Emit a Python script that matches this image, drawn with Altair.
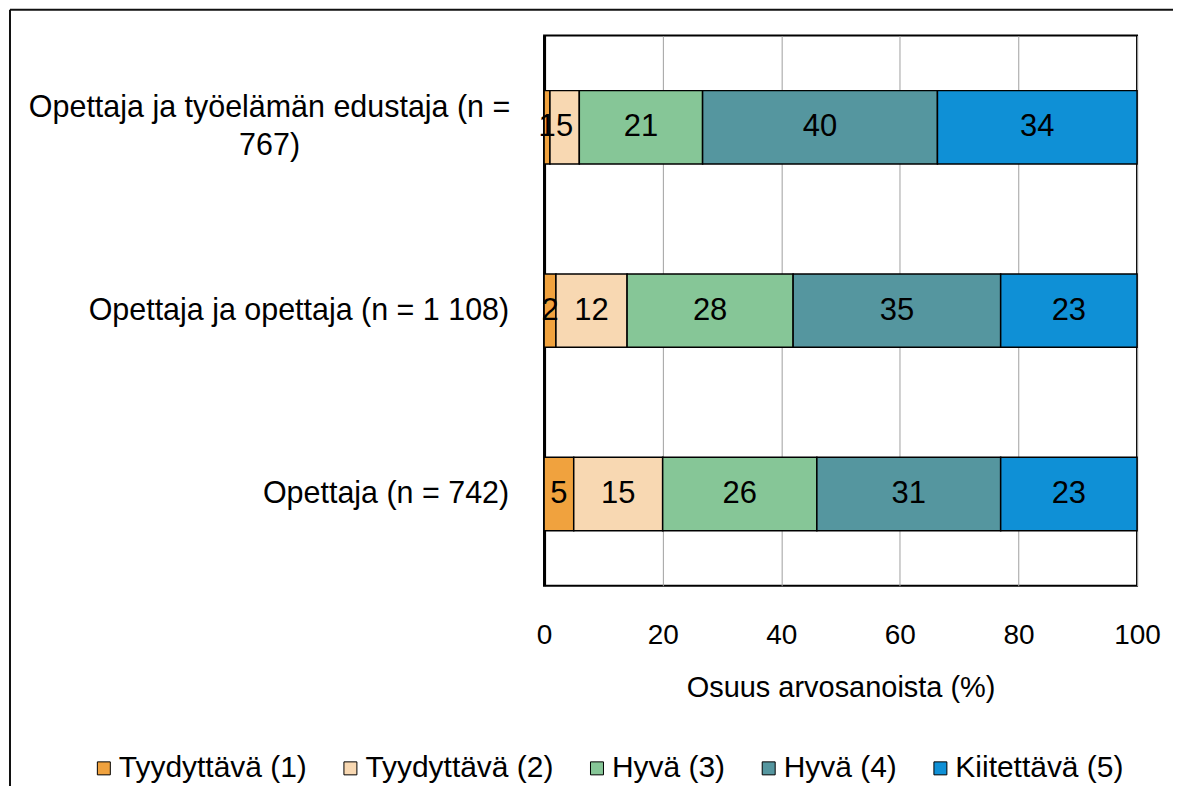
import altair as alt
import pandas as pd

# ---- data ----
groups = [
    "Opettaja ja työelämän edustaja (n = 767)",
    "Opettaja ja opettaja (n = 1 108)",
    "Opettaja (n = 742)",
]
group_labels = [
    "Opettaja ja työelämän edustaja (n =\n767)",
    "Opettaja ja opettaja (n = 1 108)",
    "Opettaja (n = 742)",
]
grades = ["Tyydyttävä (1)", "Tyydyttävä (2)", "Hyvä (3)", "Hyvä (4)", "Kiitettävä (5)"]
colors = ["#F0A23E", "#F8D8B2", "#86C697", "#55969F", "#0F90D6"]

tyyd1 = [1, 2, 5]
tyyd2 = [5, 12, 15]
hyva3 = [21, 28, 26]
hyva4 = [40, 35, 31]
kiit5 = [34, 23, 23]

x_ticks = [0, 20, 40, 60, 80, 100]

series = [tyyd1, tyyd2, hyva3, hyva4, kiit5]
rows = []
for k, (g, vals) in enumerate(zip(grades, series)):
    for grp, v in zip(groups, vals):
        rows.append({"group": grp, "grade": g, "k": k, "value": v})
df = pd.DataFrame(rows)
lab_df = pd.DataFrame({"group": groups, "label": group_labels})

FONT = "Liberation Sans"

x_scale = alt.Scale(domain=[0, 1], nice=False, zero=True)
y_enc = alt.Y(
    "group:N",
    sort=groups,
    scale=alt.Scale(paddingInner=0.6, paddingOuter=0.3),
    axis=alt.Axis(labels=False, ticks=False, domain=True, domainColor="black",
                  domainWidth=3, grid=False, title=None),
    title=None,
)

bars = alt.Chart(df).mark_bar(stroke="black", strokeWidth=1.5).encode(
    x=alt.X(
        "value:Q",
        stack="normalize",
        scale=x_scale,
        axis=alt.Axis(
            values=[t / 100 for t in x_ticks],
            labelExpr="format(datum.value*100, 'd')",
            labelFontSize=28,
            labelColor="black",
            labelFlush=False,
            labelPadding=36,
            grid=True,
            gridColor="#a0a0a0",
            gridWidth=1,
            ticks=False,
            domain=False,
            title="Osuus arvosanoista (%)",
            titleFontSize=29,
            titleFontWeight="normal",
            titleColor="black",
            titlePadding=24,
        ),
    ),
    y=y_enc,
    color=alt.Color(
        "grade:N",
        scale=alt.Scale(domain=grades, range=colors),
        legend=alt.Legend(
            orient="none",
            legendX=-456,
            legendY=719,
            direction="horizontal",
            columns=5,
            title=None,
            symbolType="square",
            symbolSize=169,
            symbolStrokeColor="black",
            symbolStrokeWidth=1,
            labelFontSize=30,
            labelColor="black",
            labelLimit=400,
            labelOffset=0,
            columnPadding=28,
            padding=0,
        ),
    ),
    order=alt.Order("k:Q"),
)

seg_text = alt.Chart(df).transform_joinaggregate(
    total="sum(value)", groupby=["group"]
).transform_window(
    cum="sum(value)", sort=[alt.SortField("k")], groupby=["group"], frame=[None, 0]
).transform_calculate(
    mid="(datum.cum - datum.value/2) / datum.total"
).mark_text(fontSize=31, color="black").encode(
    x=alt.X("mid:Q", scale=x_scale),
    y=y_enc,
    text=alt.Text("value:Q", format="d"),
)

ylab_single = alt.Chart(lab_df).transform_filter(
    "indexof(datum.label, '\\n') < 0"
).mark_text(align="right", baseline="middle", fontSize=30.5, color="black").encode(
    x=alt.value(-35),
    y=y_enc,
    text="label:N",
)

ylab_multi = alt.Chart(lab_df).transform_filter(
    "indexof(datum.label, '\\n') >= 0"
).mark_text(align="center", baseline="middle", fontSize=30.5, color="black",
            lineBreak="\n", lineHeight=38, dy=-19).encode(
    x=alt.value(-275),
    y=y_enc,
    text="label:N",
)

frame_data = alt.Data(values=[{"a": 1}])
frame_top = alt.Chart(frame_data).mark_rule(color="#111", strokeWidth=2).encode(
    x=alt.value(-535), x2=alt.value(700), y=alt.value(-26)
)
frame_left = alt.Chart(frame_data).mark_rule(color="#111", strokeWidth=2).encode(
    x=alt.value(-535), y=alt.value(-26), y2=alt.value(900)
)

chart = alt.layer(frame_top, frame_left, bars, seg_text, ylab_single, ylab_multi).properties(
    width=594,
    height=551,
    autosize=alt.AutoSizeParams(type="none"),
    padding={"left": 537, "top": 27, "right": 36, "bottom": 200},
).configure(font=FONT).configure_view(stroke="black", strokeWidth=2)

chart.save("out.html", embed_options={"renderer": "svg", "actions": False})
